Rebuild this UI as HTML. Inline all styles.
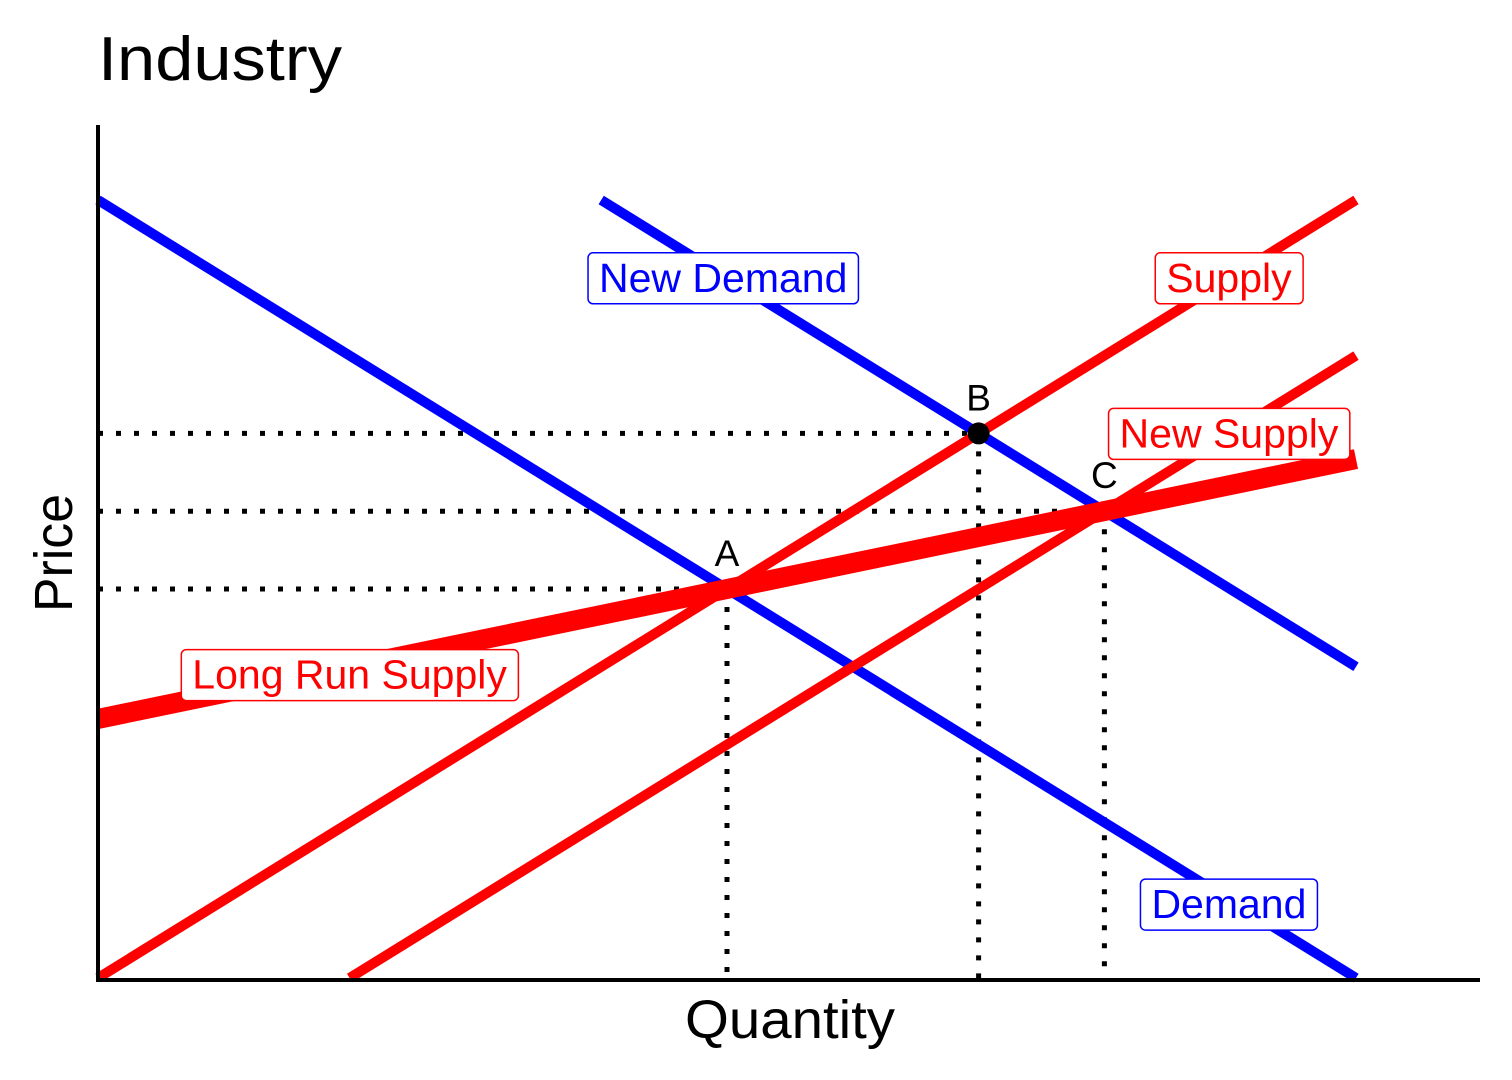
<!DOCTYPE html>
<html><head><meta charset="utf-8"><style>
html,body{margin:0;padding:0;background:#fff;}
svg{display:block;}
text{font-family:"Liberation Sans",sans-serif;}
.cond{font-family:"Liberation Sans Narrow","Liberation Sans",sans-serif;}
</style></head><body>
<svg id="chart" width="1512" height="1080" viewBox="0 0 1512 1080" xmlns="http://www.w3.org/2000/svg">
<text class="cond" x="98" y="80" font-size="62" fill="#000" textLength="244" lengthAdjust="spacingAndGlyphs">Industry</text>
<text class="cond" x="790" y="1038" font-size="54" text-anchor="middle" fill="#000" textLength="210" lengthAdjust="spacingAndGlyphs">Quantity</text>
<text class="cond" x="0" y="0" font-size="54" text-anchor="middle" fill="#000" transform="translate(72,553) rotate(-90)" textLength="118" lengthAdjust="spacingAndGlyphs">Price</text>
<g id="marks"></g>
<line x1="98" y1="125" x2="98" y2="982" stroke="#000" stroke-width="4"/>
<line x1="96" y1="980" x2="1480" y2="980" stroke="#000" stroke-width="4"/>
</svg>
<script>
// Data (q: quantity 0..10, p: price 0..10)
const lineNames = ["demand","supply","new-demand","new-supply","long-run-supply"];
const lineStart = [[0,10],[0,0],[4,10],[2,0],[0,3.33]];
const lineEnd = [[10,0],[10,10],[10,4],[10,8],[10,6.67]];
const lineColors = ["#0000ff","#ff0000","#0000ff","#ff0000","#ff0000"];
const lineWidths = [10,10,10,10,20];
const pointNames = ["A","B","C"];
const pointQ = [5,7,8];
const pointP = [5,7,6];
const labelText = ["Demand","Supply","New Demand","New Supply","Long Run Supply"];
const labelQ = [8.99,8.99,4.97,8.99,2.0];
const labelP = [0.95,9.0,9.0,7.0,3.9];

const X = q => 98 + q*125.8;
const Y = p => 978 - p*77.8;
const NS = "http://www.w3.org/2000/svg";
const g = document.getElementById('marks');
function mk(tag, attrs){const e=document.createElementNS(NS,tag);for(const k in attrs)e.setAttribute(k,attrs[k]);g.appendChild(e);return e;}

// dotted guides
for(let i=0;i<pointQ.length;i++){
  const h=mk('line',{x1:98,y1:Y(pointP[i]),x2:X(pointQ[i]),y2:Y(pointP[i]),stroke:'#000','stroke-width':5,'stroke-dasharray':'5 13'});
  
  
  const v=mk('line',{x1:X(pointQ[i]),y1:Y(pointP[i]),x2:X(pointQ[i]),y2:978,stroke:'#000','stroke-width':5,'stroke-dasharray':'5 13'});
  
  
}
// curves
for(let i=0;i<lineNames.length;i++){
  const l=mk('line',{x1:X(lineStart[i][0]),y1:Y(lineStart[i][1]),x2:X(lineEnd[i][0]),y2:Y(lineEnd[i][1]),stroke:lineColors[i],'stroke-width':lineWidths[i]});
  
  
}
// point B marker
const dot=mk('circle',{cx:X(pointQ[1]),cy:Y(pointP[1]),r:11,fill:'#000'});


// point labels
for(let i=0;i<pointNames.length;i++){
  const t=mk('text',{x:X(pointQ[i]),y:Y(pointP[i])-23,'font-size':37,'text-anchor':'middle',fill:'#000'});
  t.textContent=pointNames[i];
  
  
}
// curve labels
for(let i=0;i<labelText.length;i++){
  const cx=X(labelQ[i]), cy=Y(labelP[i]);
  const t=mk('text',{x:cx,y:cy+14,'font-size':41,'text-anchor':'middle',fill:lineColors[i]});
  t.textContent=labelText[i];
  
  
  const bb=t.getBBox();
  const r=mk('rect',{x:bb.x-11,y:cy-25,width:bb.width+22,height:51,rx:5,fill:'#fff',stroke:lineColors[i],'stroke-width':1.5});
  
  
  g.insertBefore(r,t);
}
</script>
</body></html>
